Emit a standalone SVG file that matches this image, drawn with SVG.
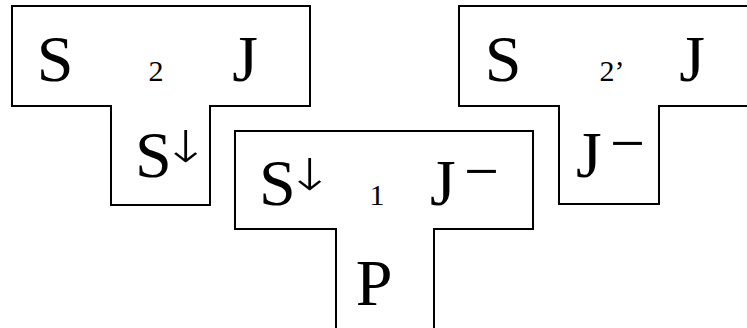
<svg xmlns="http://www.w3.org/2000/svg" width="747" height="328" viewBox="0 0 747 328">
<style>
.sh{fill:#fff;stroke:#000;stroke-width:2;stroke-linejoin:miter}
.big{font-family:"Liberation Serif","DejaVu Serif",serif;font-size:66px;fill:#000}
.sm{font-family:"Liberation Serif","DejaVu Serif",serif;font-size:30px;fill:#000}
.arr{font-family:"DejaVu Sans",sans-serif;font-weight:200;font-size:44px;fill:#000;text-anchor:middle}
.mn{font-family:"Liberation Serif","DejaVu Serif",serif;font-size:62px;fill:#000}
</style>
<rect width="747" height="328" fill="#fff"/>
<g id="node-left">
<path class="sh" d="M12,6 H310 V106 H210 V205 H111 V106 H12 Z"/>
<text class="big" x="55" y="81" text-anchor="middle">S</text>
<text class="sm" x="156" y="81" text-anchor="middle">2</text>
<text class="big" x="245" y="81" text-anchor="middle">J</text>
<text class="big" x="135" y="177">S</text>
<text class="arr" transform="translate(186,162) scale(1.3,1)">↓</text>
</g>
<g id="node-right">
<path class="sh" d="M750,6 H459 V106 H559 V204 H659 V106 H750"/>
<text class="big" x="503" y="81" text-anchor="middle">S</text>
<text class="sm" x="612" y="81" text-anchor="middle">2’</text>
<text class="big" x="692" y="81" text-anchor="middle">J</text>
<text class="big" x="576" y="177">J<tspan class="mn" x="610" y="164">−</tspan></text>
</g>
<g id="node-middle">
<path class="sh" d="M336,332 V229 H235 V131 H533 V229 H434 V332"/>
<text class="big" x="259" y="205">S</text>
<text class="arr" transform="translate(310,190) scale(1.3,1)">↓</text>
<text class="sm" x="377" y="205" text-anchor="middle">1</text>
<text class="big" x="430" y="205">J<tspan class="mn" x="464" y="192">−</tspan></text>
<text class="big" x="374" y="305" text-anchor="middle">P</text>
</g>
<g id="connectors"/>
</svg>
